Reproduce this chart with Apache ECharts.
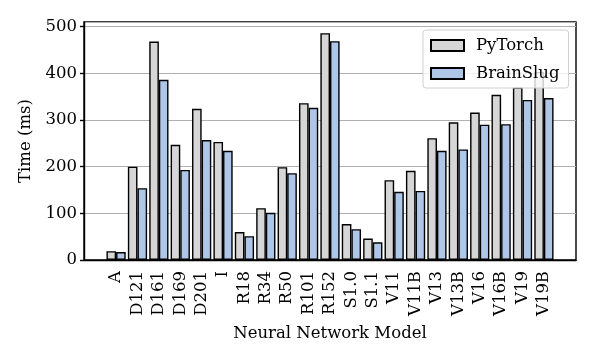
<!DOCTYPE html>
<html>
<head>
<meta charset="utf-8">
<script src="https://cdn.jsdelivr.net/npm/echarts@6/dist/echarts.min.js"></script>
<style>
  html, body { margin: 0; padding: 0; background: #fff; }
  #chart { width: 598px; height: 359px; }
</style>
</head>
<body>
<div id="chart"></div>
<script>
// models on the x axis
var models = ['A', 'D121', 'D161', 'D169', 'D201', 'I', 'R18', 'R34', 'R50', 'R101', 'R152',
              'S1.0', 'S1.1', 'V11', 'V11B', 'V13', 'V13B', 'V16', 'V16B', 'V19', 'V19B'];
// time in ms
var pytorch   = [19, 200, 468, 247, 324, 253, 60, 111, 199, 336, 486, 77, 46, 171, 191, 261, 295, 316, 354, 370, 403];
var brainslug = [17, 154, 386, 193, 257, 234, 51, 101, 186, 326, 469, 66, 38, 146, 148, 234, 237, 290, 291, 343, 347];
var yTicks = [0, 100, 200, 300, 400, 500];

// pad one empty slot on each side, like matplotlib's margins
var cats = [''].concat(models).concat(['']);
function pad(arr) { return ['-'].concat(arr).concat(['-']); }

var font = 'DejaVu Serif';
var fs = 16.5;
var chart = echarts.init(document.getElementById('chart'));
chart.setOption({
    animation: false,
    textStyle: { fontFamily: font },
    grid: {
        left: 84, right: 22, top: 22, bottom: 99,
        show: true, borderColor: '#000', borderWidth: 1.4
    },
    legend: {
        orient: 'vertical',
        left: 423, top: 30,
        padding: [7, 9, 6, 7],
        itemWidth: 33, itemHeight: 11, itemGap: 11,
        icon: 'rect',
        backgroundColor: 'rgba(255,255,255,0.8)',
        borderColor: '#d0d0d0', borderWidth: 1, borderRadius: 3,
        textStyle: { fontFamily: font, fontSize: fs, color: '#000', padding: [0, 0, 0, 7] },
        data: ['PyTorch', 'BrainSlug']
    },
    xAxis: {
        type: 'category',
        data: cats,
        name: 'Neural Network Model',
        nameLocation: 'middle',
        nameGap: 65,
        nameTextStyle: { fontFamily: font, fontSize: fs, color: '#000' },
        axisLine: { lineStyle: { color: '#000', width: 1.4 } },
        axisTick: {
            alignWithLabel: true, length: 4,
            lineStyle: { color: '#000', width: 1.4 },
            interval: function (i) { return i > 0 && i < cats.length - 1; }
        },
        axisLabel: {
            rotate: 90, interval: 0, margin: 11,
            fontFamily: font, fontSize: fs, color: '#000'
        },
        splitLine: { show: false }
    },
    yAxis: {
        type: 'value',
        min: 0, max: 510, interval: 100,
        name: 'Time (ms)',
        nameLocation: 'middle',
        nameGap: 49,
        nameTextStyle: { fontFamily: font, fontSize: fs, color: '#000' },
        axisLine: { show: true, lineStyle: { color: '#000', width: 1.4 } },
        axisTick: { show: true, length: 4, lineStyle: { color: '#000', width: 1.4 } },
        axisLabel: {
            showMaxLabel: false, margin: 7,
            fontFamily: font, fontSize: fs, color: '#000',
            formatter: function (v) { return yTicks.indexOf(v) >= 0 ? String(v) : ''; }
        },
        splitLine: { show: true, lineStyle: { color: '#b0b0b0', width: 1 } }
    },
    series: [
        {
            name: 'PyTorch', type: 'bar',
            data: pad(pytorch),
            barWidth: '45%', barGap: '0%',
            itemStyle: { color: '#d6d6d6', borderColor: '#000', borderWidth: 1.4 }
        },
        {
            name: 'BrainSlug', type: 'bar',
            data: pad(brainslug),
            barWidth: '45%', barGap: '0%',
            itemStyle: { color: '#aec7e8', borderColor: '#000', borderWidth: 1.4 }
        }
    ]
});
</script>
</body>
</html>
